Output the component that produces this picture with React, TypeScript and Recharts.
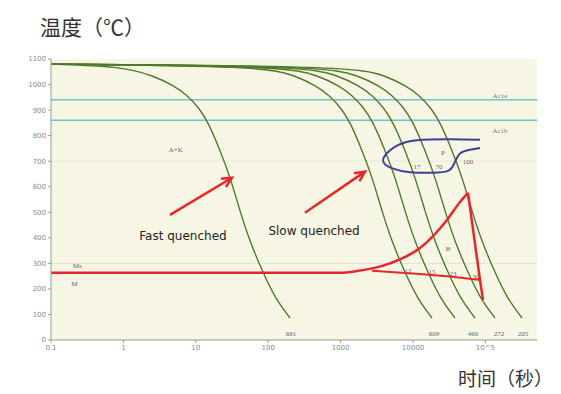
import {
  LineChart,
  Line,
  XAxis,
  YAxis,
  ReferenceLine,
  ReferenceDot,
  ReferenceArea,
} from "recharts";

// cooling curves: [time s, temperature C]
const fastCurve = [
  [0.1, 1080], [0.9, 1072], [2.6, 1035], [5, 995], [7.5, 960], [11, 910], [15, 850],
  [22, 737], [30, 635], [41, 502], [56, 384], [85, 263], [124, 165], [200, 86],
];
const slowCurveA = [
  [0.1, 1080], [82, 1072], [238, 1035], [458, 995], [686, 960], [1007, 910], [1373, 850],
  [2013, 737], [2745, 635], [3752, 502], [5124, 384], [7778, 263], [11346, 165], [18300, 86],
];
const slowCurveB = [
  [0.1, 1080], [171, 1072], [494, 1035], [950, 995], [1425, 960], [2090, 910], [2850, 850],
  [4180, 737], [5700, 635], [7790, 502], [10640, 384], [16150, 263], [23560, 165], [38000, 86],
];
const slowCurveC = [
  [0.1, 1080], [323, 1072], [933, 1035], [1795, 995], [2693, 960], [3949, 910], [5385, 850],
  [7898, 737], [10770, 635], [14719, 502], [20104, 384], [30515, 263], [44516, 165], [71800, 86],
];
const slowCurveD = [
  [0.1, 1080], [610, 1072], [1763, 1035], [3390, 995], [5085, 960], [7458, 910], [10170, 850],
  [14916, 737], [20340, 635], [27798, 502], [37968, 384], [57630, 263], [84072, 165], [135600, 86],
];
const slowCurveE = [
  [0.1, 1080], [1440, 1072], [4160, 1035], [8000, 995], [12000, 960], [17600, 910], [24000, 850],
  [35200, 737], [48000, 635], [65600, 502], [89600, 384], [136000, 263], [198400, 165], [320000, 86],
];
const coolingCurves = [fastCurve, slowCurveA, slowCurveB, slowCurveC, slowCurveD, slowCurveE];

// red Ms line rising into the bainite nose, then the drop on the right
const bainiteRise = [
  [0.1, 263], [982, 263], [1690, 270], [4810, 300], [12500, 360], [29500, 470],
  [44600, 540], [57500, 576],
];
const bainiteDrop = [[57500, 576], [84200, 235], [92700, 157]];
const bainiteLower = [[2720, 271], [12500, 258], [35000, 248], [84200, 235]];

// hand drawn blue loop around pearlite
const pearliteLoop = [
  [84200, 784], [32400, 786], [11350, 782], [6010, 761], [4100, 722], [3950, 694],
  [5200, 672], [9100, 657], [18900, 655], [30400, 662], [37000, 690], [44600, 730],
  [61300, 745], [84200, 752],
];

const acLines = [
  { T: 940, name: "Ac1e", labelT: 957 },
  { T: 860, name: "Ac1b", labelT: 820 },
];

const arrows = [
  { from: [4.4, 490], to: [31.6, 635] },
  { from: [322, 498], to: [2170, 659] },
];

const xTicks = [0.1, 1, 10, 100, 1000, 10000, 100000];
const xTickLabels = ["0.1", "1", "10", "100", "1000", "10000", "10^5"];
const yTicks = [0, 100, 200, 300, 400, 500, 600, 700, 800, 900, 1000, 1100];

const smallLabels = [
  { t: 5.3, T: 745, text: "A+K" },
  { t: 0.23, T: 290, text: "Ms" },
  { t: 0.21, T: 220, text: "M" },
  { t: 25900, T: 733, text: "P" },
  { t: 11350, T: 678, text: "17" },
  { t: 22900, T: 678, text: "70" },
  { t: 57500, T: 698, text: "100" },
  { t: 30400, T: 357, text: "B" },
  { t: 8530, T: 271, text: "12" },
  { t: 18300, T: 267, text: "15" },
  { t: 35600, T: 259, text: "23" },
  { t: 74100, T: 247, text: "30" },
  { t: 207, T: 27, text: "681" },
  { t: 19500, T: 27, text: "609" },
  { t: 67500, T: 27, text: "460" },
  { t: 154000, T: 27, text: "272" },
  { t: 330000, T: 27, text: "205" },
];

const bigLabels = [
  { t: 6.65, T: 408, text: "Fast quenched" },
  { t: 430, T: 427, text: "Slow quenched" },
];

const toRows = (pts: number[][]) => pts.map(([t, T]) => ({ t, T }));

const Arrow = (props: any) => {
  const { x1, y1, x2, y2 } = props;
  const ang = Math.atan2(y2 - y1, x2 - x1);
  const len = 11;
  const w = 0.45;
  const p1 = [x2 - len * Math.cos(ang - w), y2 - len * Math.sin(ang - w)];
  const p2 = [x2 - len * Math.cos(ang + w), y2 - len * Math.sin(ang + w)];
  return (
    <g>
      <line x1={x1} y1={y1} x2={x2} y2={y2} stroke="#e8262a" strokeWidth={2.5} />
      <polyline
        points={`${p1[0]},${p1[1]} ${x2},${y2} ${p2[0]},${p2[1]}`}
        fill="none"
        stroke="#e8262a"
        strokeWidth={2.5}
      />
    </g>
  );
};

const tickStyle = { fontSize: 7, fill: "#8a8a8a", fontFamily: "DejaVu Sans" };

export default function App() {
  return (
    <div style={{ position: "absolute", left: 0, top: 0, width: 561, height: 394, background: "#fff" }}>
      <div
        style={{
          position: "absolute",
          left: 40,
          top: 14,
          fontSize: 21,
          lineHeight: "24px",
          whiteSpace: "nowrap",
          color: "#333",
          fontFamily: "Noto Sans CJK SC",
        }}
      >
        温度（℃）
      </div>
      <div
        style={{
          position: "absolute",
          right: 8,
          top: 367,
          fontSize: 19,
          lineHeight: "22px",
          whiteSpace: "nowrap",
          color: "#333",
          fontFamily: "Noto Sans CJK SC",
        }}
      >
        时间（秒）
      </div>
      <LineChart width={561} height={394} margin={{ top: 59, right: 24, bottom: 34, left: 21 }}>
        <ReferenceArea x1={0.1} x2={516000} y1={0} y2={1100} fill="#f7f6e4" fillOpacity={1} stroke="none" />
        <XAxis
          dataKey="t"
          type="number"
          scale="log"
          domain={[0.1, 516000]}
          allowDataOverflow
          ticks={xTicks}
          tickFormatter={(v) => xTickLabels[xTicks.indexOf(v)] ?? String(v)}
          tick={tickStyle}
          tickSize={3}
          height={20}
          stroke="#999"
        />
        <YAxis
          type="number"
          domain={[0, 1100]}
          ticks={yTicks}
          tick={tickStyle}
          tickSize={3}
          width={30}
          stroke="#999"
          allowDataOverflow
        />
        <ReferenceLine y={300} stroke="#e3e3d6" strokeWidth={1} />
        <ReferenceLine y={700} stroke="#e8e8da" strokeWidth={1} />
        {acLines.map((a) => (
          <ReferenceLine key={a.name} y={a.T} stroke="#6fc6c8" strokeWidth={1.5} />
        ))}
        {coolingCurves.map((c, i) => (
          <Line
            key={i}
            data={toRows(c)}
            dataKey="T"
            type="basis"
            stroke="#4f7a2c"
            strokeWidth={1.4}
            dot={false}
            isAnimationActive={false}
          />
        ))}
        <Line
          data={toRows(bainiteRise)}
          dataKey="T"
          type="monotone"
          stroke="#e8262a"
          strokeWidth={2.5}
          dot={false}
          isAnimationActive={false}
        />
        <Line
          data={toRows(bainiteDrop)}
          dataKey="T"
          type="linear"
          stroke="#e8262a"
          strokeWidth={2.5}
          dot={false}
          isAnimationActive={false}
        />
        <Line
          data={toRows(bainiteLower)}
          dataKey="T"
          type="linear"
          stroke="#e8262a"
          strokeWidth={2}
          dot={false}
          isAnimationActive={false}
        />
        <Line
          data={toRows(pearliteLoop)}
          dataKey="T"
          type="natural"
          stroke="#3f3f9c"
          strokeWidth={2}
          dot={false}
          isAnimationActive={false}
        />
        {arrows.map((a, i) => (
          <ReferenceLine
            key={i}
            segment={[
              { x: a.from[0], y: a.from[1] },
              { x: a.to[0], y: a.to[1] },
            ]}
            shape={Arrow}
          />
        ))}
        {acLines.map((a) => (
          <ReferenceDot
            key={a.name + "l"}
            x={159000}
            y={a.labelT}
            r={0}
            label={{ value: a.name, position: "center", fontSize: 7, fill: "#777" }}
          />
        ))}
        {smallLabels.map((l, i) => (
          <ReferenceDot
            key={i}
            x={l.t}
            y={l.T}
            r={0}
            label={{ value: l.text, position: "center", fontSize: 7, fill: "#666" }}
          />
        ))}
        {bigLabels.map((l, i) => (
          <ReferenceDot
            key={"b" + i}
            x={l.t}
            y={l.T}
            r={0}
            label={{
              value: l.text,
              position: "center",
              fontSize: 12,
              fill: "#222",
              fontFamily: "DejaVu Sans",
            }}
          />
        ))}
      </LineChart>
    </div>
  );
}
